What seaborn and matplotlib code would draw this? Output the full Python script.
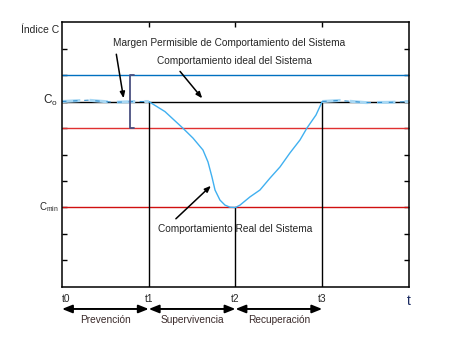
import matplotlib
matplotlib.use("Agg")
import matplotlib.pyplot as plt
import seaborn as sns
import pandas as pd

sns.set_theme(style="white")
plt.rcParams['font.family'] = ['Liberation Sans', 'DejaVu Sans']
plt.rcParams['mathtext.fontset'] = 'custom'
plt.rcParams['mathtext.rm'] = 'Liberation Sans'
plt.rcParams['mathtext.it'] = 'Liberation Sans'

# ---- data ----
curve_x = [1.0, 1.187, 1.395, 1.510, 1.625, 1.683, 1.729, 1.764, 1.821, 1.879, 1.937, 2.0,
           2.052, 2.167, 2.282, 2.398, 2.513, 2.628, 2.744, 2.824, 2.928, 3.0]
curve_y = [7.0, 6.62, 5.99, 5.62, 5.17, 4.72, 4.15, 3.66, 3.28, 3.09, 3.01, 3.0,
           3.09, 3.40, 3.66, 4.11, 4.53, 5.06, 5.55, 6.0, 6.49, 7.0]
pre_x = [0.0, 0.3, 0.6, 0.85, 1.0]
pre_y = [7.0, 7.05, 6.97, 7.0, 7.0]
post_x = [3.0, 3.2, 3.5, 3.8, 4.0]
post_y = [7.0, 7.04, 6.96, 6.97, 7.0]
t_names = ["t0", "t1", "t2", "t3"]
t_vals = [0, 1, 2, 3]
phases = ["Prevención", "Supervivencia", "Recuperación"]
level_upper = 8
level_c0 = 7
level_lower = 6
level_cmin = 3

fig = plt.figure(figsize=(4.62, 3.41), dpi=100)
ax = fig.add_axes([0.1342, 0.1584, 0.751, 0.777])
ax.set_xlim(0, 4)
ax.set_ylim(0, 10)

ax.axhline(level_upper, color='#0070c0', lw=1)
ax.axhline(level_c0, color='black', lw=1)
ax.axhline(level_lower, color='#e03030', lw=1)
ax.axhline(level_cmin, color='#d01010', lw=1)

# vertical lines
ax.plot([1, 1], [0, level_c0], color='black', lw=1)
ax.plot([2, 2], [0, level_cmin], color='black', lw=1)
ax.plot([3, 3], [0, level_c0], color='black', lw=1)

df = pd.DataFrame({"x": curve_x, "y": curve_y})
sns.lineplot(data=df, x="x", y="y", ax=ax, color='#40b0f0', lw=1, sort=False)
dpre = pd.DataFrame({"x": pre_x, "y": pre_y})
dpost = pd.DataFrame({"x": post_x, "y": post_y})
for d in (dpre, dpost):
    sns.lineplot(data=d, x="x", y="y", ax=ax, color='#a8d8f4', lw=2.2, sort=False, linestyle=(0, (6, 3)))
    sns.lineplot(data=d, x="x", y="y", ax=ax, color='#3090d0', lw=0.8, sort=False, linestyle=(0, (4, 6)))

# bracket
bx = 0.784
ax.plot([bx + 0.05, bx, bx, bx + 0.05], [level_upper, level_upper, level_lower, level_lower],
        color='#4a5080', lw=1.3)

ax.set_xlabel("")
ax.set_ylabel("")
ax.set_xticks([1, 2, 3])
ax.set_yticks(range(1, 10))
ax.tick_params(direction='in', length=3.5, width=1, top=True, right=True, left=True, bottom=False,
               labelbottom=False, labelleft=False, color='black')
for s in ax.spines.values():
    s.set_color('black')
    s.set_linewidth(1.1)

fs = 7.3
ap = dict(arrowstyle='-|>,head_length=0.5,head_width=0.2', color='black', lw=1.1)
ax.annotate("Margen Permisible de Comportamiento del Sistema", xy=(0.715, 7.02), xytext=(0.588, 9.2),
            fontsize=fs, va='center', ha='left', arrowprops=dict(ap, relpos=(0.01, 0.0)))
ax.annotate("Comportamiento ideal del Sistema", xy=(1.637, 7.04), xytext=(1.095, 8.53),
            fontsize=fs, va='center', ha='left', arrowprops=dict(ap, relpos=(0.12, 0.0)))
ax.annotate("Comportamiento Real del Sistema", xy=(1.74, 3.89), xytext=(1.107, 2.19),
            fontsize=fs, va='center', ha='left', arrowprops=dict(ap, relpos=(0.08, 1.0)))

# y labels
ax.text(-0.03, 9.7, "Índice C", fontsize=7.5, ha='right', va='center')
ax.text(-0.05, 7.05, "C$_\\mathrm{o}$", fontsize=8.5, ha='right', va='center')
ax.text(-0.04, 3.0, "C$_\\mathrm{min}$", fontsize=7, ha='right', va='center')

# t labels
for n, v in zip(t_names, t_vals):
    ax.text(v, -0.45, n, fontsize=7.3, ha='center' if v else 'left', va='center', clip_on=False)
ax.text(4.0, -0.52, "t", fontsize=10, color='#1a2a60', ha='center', va='center')

for i, p in enumerate(phases):
    ax.annotate("", xy=(t_vals[i], -0.83), xytext=(t_vals[i + 1], -0.83), annotation_clip=False,
                arrowprops=dict(arrowstyle='<|-|>,head_length=0.5,head_width=0.2', color='black', lw=1.4,
                                shrinkA=0, shrinkB=0))
    ax.text((t_vals[i] + t_vals[i + 1]) / 2, -1.25, p, fontsize=7.3, color='#3a2a2a', ha='center', va='center')

fig.savefig("out.png", dpi=100)
